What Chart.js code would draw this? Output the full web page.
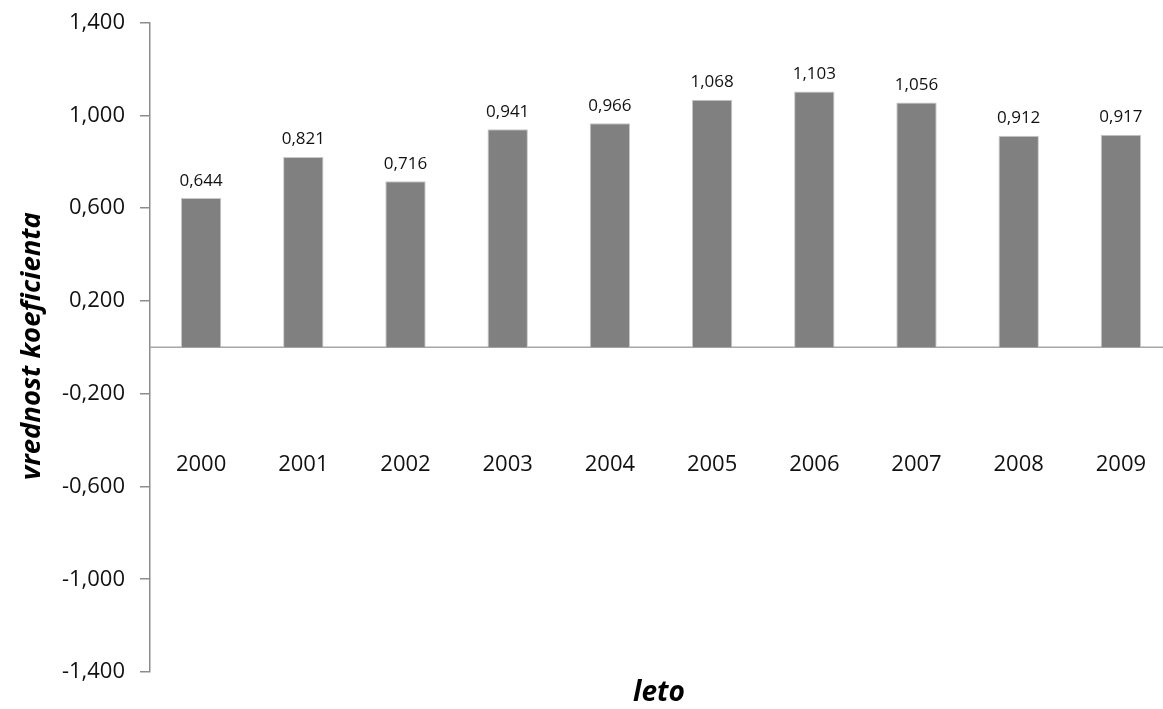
<!DOCTYPE html>
<html>
<head>
<meta charset="utf-8">
<script src="https://cdn.jsdelivr.net/npm/chart.js@4/dist/chart.umd.min.js"></script>
<style>
  html, body { margin: 0; padding: 0; background: #fff; overflow: hidden; }
  #wrap { width: 1172px; height: 709px; }
</style>
</head>
<body>
<div id="wrap"><canvas id="c" width="1172" height="709"></canvas></div>
<script>
// Yearly coefficient values
const years = ['2000', '2001', '2002', '2003', '2004', '2005', '2006', '2007', '2008', '2009'];
const coefficients = [0.644, 0.821, 0.716, 0.941, 0.966, 1.068, 1.103, 1.056, 0.912, 0.917];
const axisMin = -1.4;
const axisMax = 1.4;
const axisStep = 0.4;
const xTitle = 'leto';
const yTitle = 'vrednost koeficienta';
const categoryLabelLevel = -0.5; // year labels sit at this value on the y scale

const FONT = '"Open Sans", "Noto Sans", sans-serif';
const fmt = v => v.toFixed(3).replace('.', ',');

// Zero baseline, value labels above bars, year labels and axis titles
const decorations = {
  id: 'decorations',
  beforeDatasetsDraw(chart) {
    const { ctx, chartArea, scales: { y } } = chart;
    const y0 = y.getPixelForValue(0);
    ctx.save();
    ctx.strokeStyle = '#a6a6a6';
    ctx.lineWidth = 1.5;
    ctx.beginPath();
    ctx.moveTo(chartArea.left, y0);
    ctx.lineTo(chartArea.right, y0);
    ctx.stroke();
    ctx.restore();
  },
  afterDatasetsDraw(chart) {
    const { ctx, scales: { x, y } } = chart;
    const meta = chart.getDatasetMeta(0);
    ctx.save();
    ctx.fillStyle = '#111';
    ctx.textAlign = 'center';
    ctx.textBaseline = 'alphabetic';
    ctx.font = '17px ' + FONT;
    meta.data.forEach((bar, i) => {
      ctx.fillText(fmt(coefficients[i]), bar.x, bar.y - 12.5);
    });
    ctx.font = '22px ' + FONT;
    const ly = y.getPixelForValue(categoryLabelLevel) + 7.5;
    years.forEach((yr, i) => {
      ctx.fillText(yr, x.getPixelForValue(i), ly);
    });
    // axis titles
    ctx.fillStyle = '#000';
    ctx.font = 'italic bold 28px ' + FONT;
    ctx.textBaseline = 'middle';
    ctx.fillText(xTitle, 659, 693);
    ctx.translate(32, 346);
    ctx.rotate(-Math.PI / 2);
    ctx.font = 'italic bold 27.5px ' + FONT;
    ctx.fillText(yTitle, 0, 0);
    ctx.restore();
  }
};

new Chart(document.getElementById('c'), {
  type: 'bar',
  data: {
    labels: years,
    datasets: [{
      data: coefficients,
      backgroundColor: '#808080',
      borderColor: '#c8c8c8',
      borderWidth: 1,
      barPercentage: 0.395,
      categoryPercentage: 1.0
    }]
  },
  options: {
    responsive: false,
    animation: false,
    events: [],
    layout: { padding: { top: 22.7, bottom: 37, left: 0, right: 0 } },
    plugins: { legend: { display: false }, tooltip: { enabled: false }, title: { display: false } },
    scales: {
      x: { display: false },
      y: {
        min: axisMin,
        max: axisMax,
        afterFit(scale) {
          scale.width = 150;
          scale.paddingTop = 0;
          scale.paddingBottom = 0;
        },
        afterBuildTicks(scale) {
          const t = [];
          for (let k = 0; k <= Math.round((axisMax - axisMin) / axisStep); k++) {
            t.push({ value: +(axisMin + k * axisStep).toFixed(3) });
          }
          scale.ticks = t;
        },
        ticks: {
          callback: v => fmt(v),
          color: '#111',
          padding: 15,
          font: { family: FONT, size: 22 }
        },
        grid: { drawOnChartArea: false, drawTicks: true, tickLength: 10, color: '#8c8c8c', lineWidth: 1.5 },
        border: { display: true, color: '#8c8c8c', width: 1.5 }
      }
    }
  },
  plugins: [decorations]
});
</script>
</body>
</html>
